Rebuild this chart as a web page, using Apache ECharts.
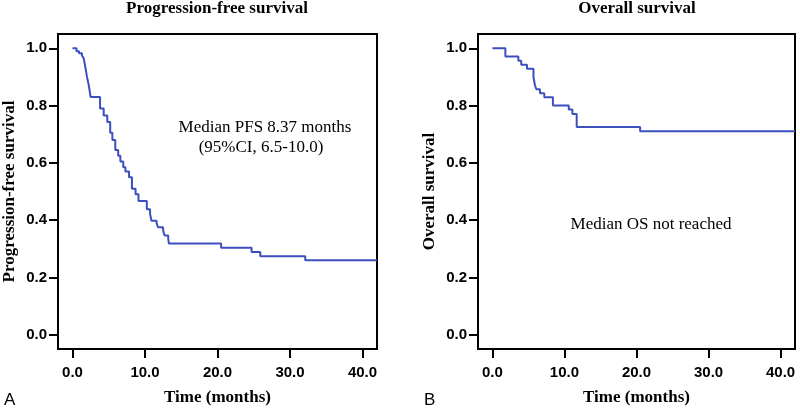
<!DOCTYPE html>
<html>
<head>
<meta charset="utf-8">
<script src="https://cdn.jsdelivr.net/npm/echarts@6/dist/echarts.min.js"></script>
<style>html,body{margin:0;padding:0;background:#fff}#c{width:800px;height:411px}</style>
</head>
<body>
<div id="c"></div>
<script>
// ---- data ----
const pfsTimes = [0, 0.55, 0.9, 1.3, 1.55, 1.8, 2.0, 2.25, 2.5, 3.8, 4.3, 4.8, 5.2, 5.5, 5.9, 6.3, 6.6, 7.0, 7.3, 7.8, 8.2, 8.7, 9.1, 10.25, 10.7, 10.9, 11.6, 11.8, 12.5, 12.7, 13.2, 13.3, 20.5, 24.7, 25.9, 32.1, 42];
const pfsSurv  = [1.0, 0.99, 0.983, 0.975, 0.965, 0.93, 0.9, 0.87, 0.83, 0.79, 0.765, 0.743, 0.705, 0.68, 0.645, 0.625, 0.605, 0.585, 0.57, 0.55, 0.51, 0.49, 0.467, 0.438, 0.421, 0.398, 0.39, 0.375, 0.364, 0.346, 0.335, 0.318, 0.304, 0.289, 0.274, 0.26, 0.26];
const osTimes = [0, 1.8, 3.6, 4.0, 4.8, 5.7, 5.8, 5.9, 6.1, 6.6, 7.2, 8.4, 10.6, 11.1, 11.7, 20.5, 42];
const osSurv  = [1.0, 0.971, 0.957, 0.943, 0.929, 0.9, 0.886, 0.871, 0.857, 0.843, 0.829, 0.8, 0.786, 0.771, 0.725, 0.71, 0.71];
const xTicks = [0, 10, 20, 30, 40];
const yTicks = [0, 0.2, 0.4, 0.6, 0.8, 1.0];
const panelTitles = ['Progression-free survival', 'Overall survival'];
const yNames = ['Progression-free survival', 'Overall survival'];
const xName = 'Time (months)';
const panelLetters = ['A', 'B'];
const notePFS = ['Median PFS 8.37 months', '(95%CI, 6.5-10.0)'];
const noteOS = 'Median OS not reached';

const toPairs = (t, s) => t.map((v, i) => [v, s[i]]);
const blue = '#3d4fbf';
const serif = '"Liberation Serif", "DejaVu Serif", serif';
const sans = '"Liberation Sans", Arial, sans-serif';

const grids = [
  {left: 57, right: 423, top: 34, bottom: 57},
  {left: 478, right: 5, top: 34, bottom: 57}
];

function xAxis(i) {
  return {
    gridIndex: i, type: 'value', min: -2, max: 42,
    name: xName, nameLocation: 'middle', nameGap: 40,
    nameTextStyle: {fontFamily: serif, fontWeight: 'bold', fontSize: 17, color: '#000'},
    axisLine: {show: true, onZero: false, lineStyle: {color: '#000', width: 2}},
    axisTick: {show: true, length: 9, lineStyle: {color: '#000', width: 2}, customValues: xTicks},
    axisLabel: {customValues: xTicks, formatter: v => v.toFixed(1), fontFamily: sans, fontWeight: 'bold', fontSize: 15, color: '#000', margin: 16},
    splitLine: {show: false}
  };
}
function yAxis(i) {
  return {
    gridIndex: i, type: 'value', min: -0.05, max: 1.05,
    name: yNames[i], nameLocation: 'middle', nameGap: 40,
    nameTextStyle: {fontFamily: serif, fontWeight: 'bold', fontSize: 17, color: '#000'},
    axisLine: {show: true, onZero: false, lineStyle: {color: '#000', width: 2}},
    axisTick: {show: true, length: 9, lineStyle: {color: '#000', width: 2}, customValues: yTicks},
    axisLabel: {customValues: yTicks, formatter: v => v.toFixed(1), fontFamily: sans, fontWeight: 'bold', fontSize: 15, color: '#000', margin: 11},
    splitLine: {show: false}
  };
}

const chart = echarts.init(document.getElementById('c'), null, {renderer: 'canvas'});
chart.setOption({
  animation: false,
  backgroundColor: '#fff',
  grid: grids.map(g => Object.assign({show: true, borderColor: '#000', borderWidth: 2}, g)),
  xAxis: [xAxis(0), xAxis(1)],
  yAxis: [yAxis(0), yAxis(1)],
  title: [
    {text: panelTitles[0], left: 217, top: 0, padding: 0, textAlign: 'center', textStyle: {fontFamily: serif, fontWeight: 'bold', fontSize: 17, color: '#000'}},
    {text: panelTitles[1], left: 637, top: 0, padding: 0, textAlign: 'center', textStyle: {fontFamily: serif, fontWeight: 'bold', fontSize: 17, color: '#000'}}
  ],
  graphic: [
    {type: 'text', left: 4, top: 392, style: {text: panelLetters[0], font: '17px ' + sans, fill: '#000'}},
    {type: 'text', left: 424, top: 392, style: {text: panelLetters[1], font: '17px ' + sans, fill: '#000'}},
    {type: 'text', x: 265, y: 128, style: {text: notePFS[0], font: '17px ' + serif, fill: '#000', textAlign: 'center', textVerticalAlign: 'middle'}},
    {type: 'text', x: 261, y: 148, style: {text: notePFS[1], font: '17px ' + serif, fill: '#000', textAlign: 'center', textVerticalAlign: 'middle'}},
    {type: 'text', x: 651, y: 225, style: {text: noteOS, font: '17px ' + serif, fill: '#000', textAlign: 'center', textVerticalAlign: 'middle'}}
  ],
  series: [
    {type: 'line', xAxisIndex: 0, yAxisIndex: 0, step: 'end', showSymbol: false, data: toPairs(pfsTimes, pfsSurv), lineStyle: {color: blue, width: 2}, clip: true},
    {type: 'line', xAxisIndex: 1, yAxisIndex: 1, step: 'end', showSymbol: false, data: toPairs(osTimes, osSurv), lineStyle: {color: blue, width: 2}, clip: true}
  ]
});
</script>
</body>
</html>
